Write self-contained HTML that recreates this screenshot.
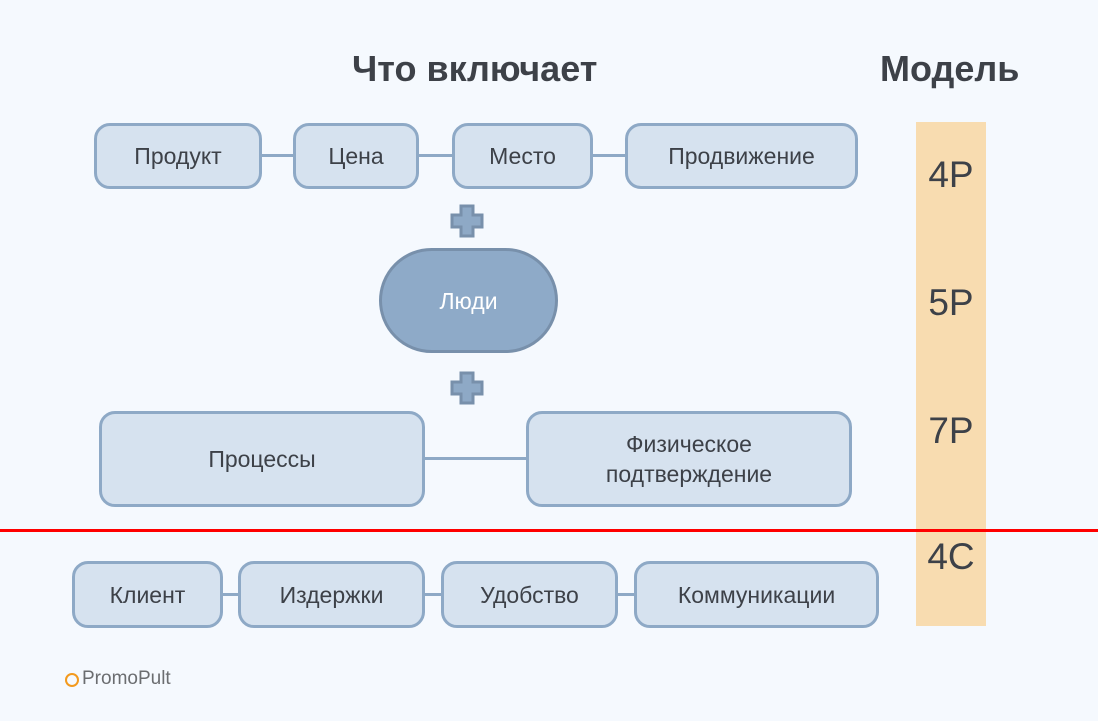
<!DOCTYPE html>
<html><head><meta charset="utf-8"><style>
body{margin:0;width:1098px;height:721px;background:#f5f9fe;position:relative;overflow:hidden;font-family:"Liberation Sans","DejaVu Sans",sans-serif;}
.b{position:absolute;box-sizing:border-box;background:#d6e2ef;border:3px solid #8ea9c6;border-radius:16px;display:flex;align-items:center;justify-content:center;text-align:center;color:#3d4148;font-size:23px;line-height:30px;}
.l{position:absolute;background:#8ea9c6;height:3px;}
.t{position:absolute;font-weight:bold;font-size:36px;color:#3d4148;}
.m{position:absolute;font-size:37px;color:#3d4148;width:70px;text-align:center;left:916px;}
</style></head><body>
<div class="t" style="left:352px;top:48px;">Что включает</div>
<div class="t" style="left:880px;top:48px;">Модель</div>
<div style="position:absolute;left:916px;top:122px;width:70px;height:504px;background:#f8dcb0;"></div>
<div class="m" style="top:154px;">4P</div>
<div class="m" style="top:282px;">5P</div>
<div class="m" style="top:410px;">7P</div>
<div class="m" style="top:536px;">4C</div>

<div class="l" style="left:260px;top:154px;width:36px"></div>
<div class="l" style="left:416px;top:154px;width:38px"></div>
<div class="l" style="left:590px;top:154px;width:38px"></div>
<div class="b" style="left:94px;top:123px;width:168px;height:66px;">Продукт</div>
<div class="b" style="left:293px;top:123px;width:126px;height:66px;">Цена</div>
<div class="b" style="left:452px;top:123px;width:141px;height:66px;">Место</div>
<div class="b" style="left:625px;top:123px;width:233px;height:66px;">Продвижение</div>

<svg style="position:absolute;left:450px;top:204px" width="34" height="34"><path d="M11 2h12v9h9v12h-9v9h-12v-9h-9v-12h9z" fill="#8ea9c6" stroke="#7890ab" stroke-width="3"/></svg>
<svg style="position:absolute;left:450px;top:371px" width="34" height="34"><path d="M11 2h12v9h9v12h-9v9h-12v-9h-9v-12h9z" fill="#8ea9c6" stroke="#7890ab" stroke-width="3"/></svg>

<div class="b" style="left:379px;top:248px;width:179px;height:105px;border-radius:53px;background:#8eaac8;border-color:#7890ab;color:#fff;">Люди</div>

<div class="l" style="left:422px;top:457px;width:106px"></div>
<div class="b" style="left:99px;top:411px;width:326px;height:96px;">Процессы</div>
<div class="b" style="left:526px;top:411px;width:326px;height:96px;">Физическое<br>подтверждение</div>

<div style="position:absolute;left:0;top:529px;width:1098px;height:3px;background:#f00;"></div>

<div class="l" style="left:220px;top:593px;width:20px"></div>
<div class="l" style="left:422px;top:593px;width:22px"></div>
<div class="l" style="left:615px;top:593px;width:22px"></div>
<div class="b" style="left:72px;top:561px;width:151px;height:67px;">Клиент</div>
<div class="b" style="left:238px;top:561px;width:187px;height:67px;">Издержки</div>
<div class="b" style="left:441px;top:561px;width:177px;height:67px;">Удобство</div>
<div class="b" style="left:634px;top:561px;width:245px;height:67px;">Коммуникации</div>

<div style="position:absolute;left:65px;top:673px;width:10px;height:10px;border:2px solid #f39a1e;border-radius:50%;"></div>
<div style="position:absolute;left:82px;top:668px;font-size:19px;color:#6b6d70;">PromoPult</div>
</body></html>
